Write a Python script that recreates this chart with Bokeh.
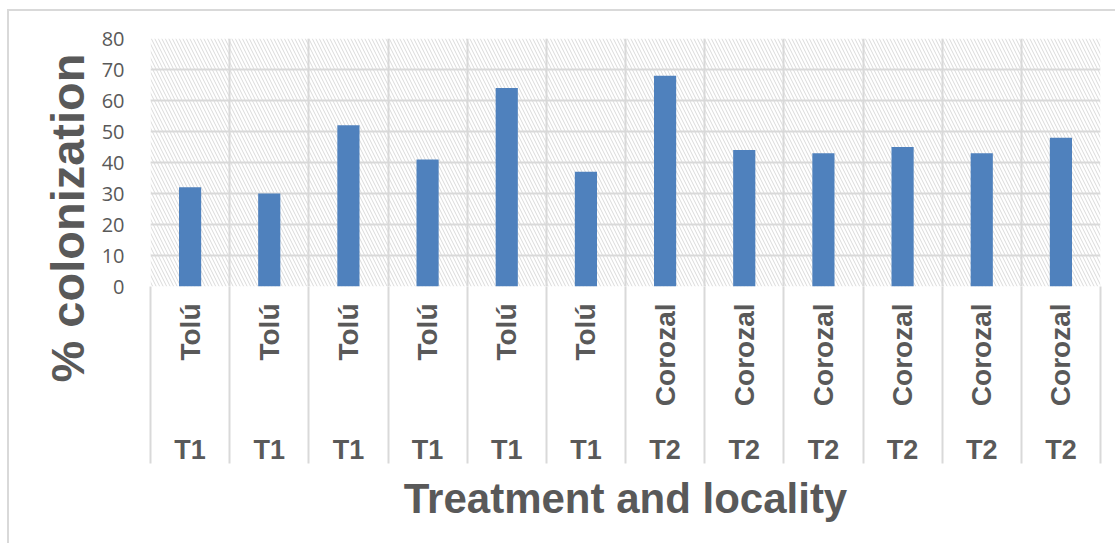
import numpy as np
from bokeh.plotting import figure
from bokeh.models import Range1d, FixedTicker, LinearAxis, Title
from bokeh.embed import file_html
from bokeh.resources import INLINE

# ---- data ----
treatments = ["T1", "T1", "T1", "T1", "T1", "T1", "T2", "T2", "T2", "T2", "T2", "T2"]
localities = ["Tolú", "Tolú", "Tolú", "Tolú", "Tolú", "Tolú",
              "Corozal", "Corozal", "Corozal", "Corozal", "Corozal", "Corozal"]
colonization = [32, 30, 52, 41, 64, 37, 68, 44, 43, 45, 43, 48]
y_ticks = [0, 10, 20, 30, 40, 50, 60, 70, 80]

positions = list(range(1, len(colonization) + 1))
boundaries = [x - 0.5 for x in positions] + [positions[-1] + 0.5]

GRID = "#d9d9d9"
TXT = "#595959"
BAR = "#4f81bd"

SEP = 177  # length of the separators below the plot area

p = figure(frame_width=950, frame_height=248,
           x_range=Range1d(boundaries[0], boundaries[-1]),
           y_range=Range1d(y_ticks[0], y_ticks[-1]),
           x_axis_location=None,
           output_backend="svg", toolbar_location=None,
           min_border_left=141, min_border_right=15,
           min_border_top=27, min_border_bottom=257)
p.styles = {"margin-left": "7px", "margin-top": "9px",
            "border-left": "2px solid #d9d9d9", "border-top": "2px solid #d9d9d9"}
p.outline_line_color = None
p.background_fill_color = "white"
p.border_fill_color = "white"

# hatched plot area
p.quad(left=[boundaries[0]], right=[boundaries[-1]], bottom=[y_ticks[0]], top=[y_ticks[-1]],
       fill_color="white", line_color=None, hatch_pattern="\\", hatch_color="#dadada",
       hatch_scale=7, hatch_weight=1, level="image")

# grids
p.ygrid.ticker = FixedTicker(ticks=y_ticks)
p.ygrid.grid_line_color = GRID
p.ygrid.grid_line_width = 2
p.xgrid.ticker = FixedTicker(ticks=boundaries)
p.xgrid.grid_line_color = GRID
p.xgrid.grid_line_width = 2

# bars
p.vbar(x=positions, top=colonization, width=0.28, fill_color=BAR, line_color=None)

# y axis
yax = p.yaxis[0]
yax.ticker = FixedTicker(ticks=y_ticks)
yax.axis_line_color = None
yax.major_tick_line_color = None
yax.minor_tick_line_color = None
yax.major_label_text_font = "Open Sans"
yax.major_label_text_font_size = "20px"
yax.major_label_text_color = TXT
yax.major_label_standoff = 20

# x axis 1: localities (vertical) with separators as long minor ticks
ax1 = LinearAxis(ticker=FixedTicker(ticks=positions, minor_ticks=boundaries),
                 major_label_overrides={x: loc for x, loc in zip(positions, localities)},
                 major_label_orientation=np.pi / 2,
                 major_label_text_font="Liberation Sans",
                 major_label_text_font_style="bold",
                 major_label_text_font_size="28px",
                 major_label_text_color=TXT,
                 major_label_standoff=17 - SEP,
                 major_tick_line_color=None, major_tick_out=0, major_tick_in=0,
                 minor_tick_line_color=GRID, minor_tick_line_width=2,
                 minor_tick_out=SEP, minor_tick_in=0,
                 axis_line_color=None)

# x axis 2: treatments + axis title
ax2 = LinearAxis(ticker=FixedTicker(ticks=positions),
                 major_label_overrides={x: t for x, t in zip(positions, treatments)},
                 major_label_text_font="Liberation Sans",
                 major_label_text_font_style="bold",
                 major_label_text_font_size="27px",
                 major_label_text_color=TXT,
                 major_label_standoff=25,
                 major_tick_line_color=None, major_tick_out=0, major_tick_in=0,
                 minor_tick_line_color=None,
                 axis_line_color=None,
                 axis_label="Treatment and locality",
                 axis_label_text_font="Liberation Sans",
                 axis_label_text_font_style="bold",
                 axis_label_text_font_size="42px",
                 axis_label_text_color=TXT,
                 axis_label_standoff=7)
p.add_layout(ax1, "below")
p.add_layout(ax2, "below")

# y axis title (starts below the plot area as in the reference)
p.add_layout(Title(text="% colonization", align="left", offset=-96,
                   text_font="Liberation Sans", text_font_style="bold",
                   text_font_size="47px", text_color=TXT, standoff=10), "left")

open("out.html", "w").write(file_html(p, INLINE))
